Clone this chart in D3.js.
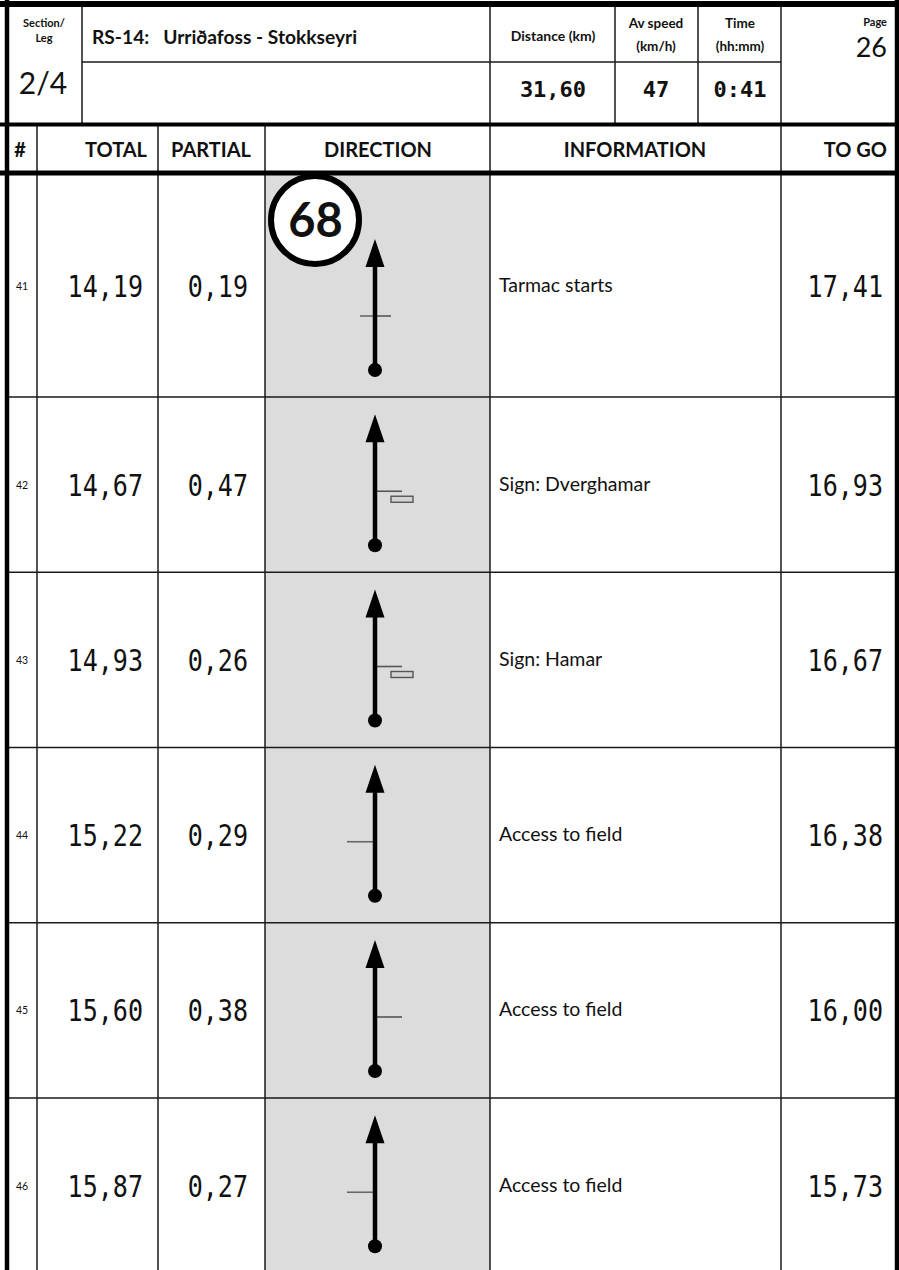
<!DOCTYPE html>
<html>
<head>
<meta charset="utf-8">
<script src="https://cdn.jsdelivr.net/npm/d3@7"></script>
<style>
  body { margin: 0; background: #fff; }
  svg { display: block; }
  .lbl { font-family: Lato, "Open Sans", sans-serif; fill: #111; }
  .mono { font-family: "DejaVu Sans Mono", monospace; fill: #111; }
</style>
</head>
<body>
<div id="page"></div>
<script>
// roadbook page data
var rowNums = [41, 42, 43, 44, 45, 46];
var totals = ["14,19", "14,67", "14,93", "15,22", "15,60", "15,87"];
var partials = ["0,19", "0,47", "0,26", "0,29", "0,38", "0,27"];
var infos = ["Tarmac starts", "Sign: Dverghamar", "Sign: Hamar", "Access to field", "Access to field", "Access to field"];
var toGo = ["17,41", "16,93", "16,67", "16,38", "16,00", "15,73"];
var sideRoads = ["cross", "right", "right", "left", "right", "left"];
var signBoxes = [false, true, true, false, false, false];
var waypoints = [68, null, null, null, null, null];

var sectionLeg = "2/4";
var title = "RS-14:   Urriðafoss - Stokkseyri";
var distance = "31,60", avSpeed = "47", timeHM = "0:41", pageNo = "26";
var colHeads = ["#", "TOTAL", "PARTIAL", "DIRECTION", "INFORMATION", "TO GO"];

var W = 899, H = 1270;
var cols = [9, 37, 158, 265, 490, 781, 895];   // column edges
var topCols = [82, 490, 615, 698, 781];        // header edges

var svg = d3.select('#page').append('svg')
  .attr('width', W).attr('height', H);

// row bounds: first row taller (waypoint), then equal rows
var rowScale = d3.scaleLinear().domain([1, 6]).range([397, 397 + 5 * 175.25]);
function rowTop(i) { return i == 0 ? 175 : rowScale(i); }
function rowBot(i) { return rowScale(i + 1); }

// grey direction column
svg.append('rect')
  .attr('x', cols[3]).attr('y', 175)
  .attr('width', cols[4] - cols[3]).attr('height', H - 175)
  .attr('fill', '#dcdcdc');

function line(x1, y1, x2, y2, w, c) {
  svg.append('line')
    .attr('x1', x1).attr('y1', y1).attr('x2', x2).attr('y2', y2)
    .attr('stroke', c || '#1a1a1a').attr('stroke-width', w || 1.5);
}

// header grid
topCols.forEach(function(x) { line(x, 7, x, 123); });
line(topCols[0], 62, topCols[4], 62);
cols.slice(1, 6).forEach(function(x) { line(x, 125, x, H); });
d3.range(1, 6).forEach(function(i) { line(cols[0], rowScale(i), cols[6], rowScale(i)); });

// thick frame
line(7, 0, 7, H, 4.5, '#000');
line(897, 0, 897, H, 4.5, '#000');
line(0, 4, W, 4, 6, '#000');
line(0, 124.5, W, 124.5, 4, '#000');
line(0, 173, W, 173, 5, '#000');

function txt(x, y, s, size, anchor, weight, cls) {
  return svg.append('text')
    .attr('class', cls || 'lbl')
    .attr('x', x).attr('y', y)
    .attr('font-size', size)
    .attr('text-anchor', anchor || 'start')
    .attr('font-weight', weight || 'normal')
    .style('white-space', 'pre')
    .text(s);
}

// top header
txt(44, 27, 'Section/', 11, 'middle', 'bold');
txt(44, 42, 'Leg', 11, 'middle', 'bold');
txt(43, 94, sectionLeg, 30, 'middle');
txt(92, 44, title, 19.2, 'start', 'bold');
txt(553, 41, 'Distance (km)', 14, 'middle', 'bold');
txt(656, 28, 'Av speed', 13.5, 'middle', 'bold');
txt(656, 51, '(km/h)', 13.5, 'middle', 'bold');
txt(740, 28, 'Time', 13.5, 'middle', 'bold');
txt(740, 51, '(hh:mm)', 13.5, 'middle', 'bold');
txt(887, 26, 'Page', 11, 'end', 'bold');
txt(887, 57, pageNo, 27, 'end');
txt(553, 97, distance, 22, 'middle', 'bold', 'mono');
txt(656, 97, avSpeed, 22, 'middle', 'bold', 'mono');
txt(740, 97, timeHM, 22, 'middle', 'bold', 'mono');

// column headings
var headX = [20, 147, 211, 378, 635, 887];
var headA = ['middle', 'end', 'middle', 'middle', 'middle', 'end'];
colHeads.forEach(function(h, i) { txt(headX[i], 157, h, 20, headA[i], 'bold'); });

// rows
function monoNum(xRight, y, s) {
  svg.append('text')
    .attr('class', 'mono')
    .attr('transform', 'translate(' + xRight + ',' + y + ') scale(0.85,1)')
    .attr('font-size', 29.5)
    .attr('text-anchor', 'end')
    .text(s);
}

rowNums.forEach(function(n, i) {
  var t = rowTop(i), b = rowBot(i), c = (t + b) / 2;
  txt(22, c + 4, n, 10.5, 'middle').attr('fill', '#444');
  monoNum(143, c + 11, totals[i]);
  monoNum(248, c + 11, partials[i]);
  monoNum(883, c + 11, toGo[i]);
  txt(499, c + 6, infos[i], 19.5);

  // tulip
  var g = svg.append('g');
  var cx = 375, sy = b - 81;
  if (sideRoads[i] == 'cross' || sideRoads[i] == 'left')
    g.append('line').attr('x1', sideRoads[i] == 'cross' ? 360 : 347).attr('x2', cx)
      .attr('y1', sy).attr('y2', sy).attr('stroke', '#666').attr('stroke-width', 1.6);
  if (sideRoads[i] == 'cross' || sideRoads[i] == 'right')
    g.append('line').attr('x1', cx).attr('x2', sideRoads[i] == 'cross' ? 391 : 402)
      .attr('y1', sy).attr('y2', sy).attr('stroke', '#555').attr('stroke-width', 1.6);
  if (signBoxes[i])
    g.append('rect').attr('x', 391).attr('y', sy + 5).attr('width', 22).attr('height', 6)
      .attr('fill', '#d4d4d4').attr('stroke', '#555').attr('stroke-width', 1.4);
  g.append('line').attr('x1', cx).attr('x2', cx).attr('y1', b - 132).attr('y2', b - 27)
    .attr('stroke', '#000').attr('stroke-width', 4.5);
  g.append('path')
    .attr('d', d3.line()([[cx, b - 158], [cx - 9.5, b - 130], [cx + 9.5, b - 130]]) + 'Z')
    .attr('fill', '#000');
  g.append('circle').attr('cx', cx).attr('cy', b - 27).attr('r', 7).attr('fill', '#000');

  if (waypoints[i] != null) {
    svg.append('circle').attr('cx', 315).attr('cy', t + 45).attr('r', 44)
      .attr('fill', '#fff').attr('stroke', '#000').attr('stroke-width', 6);
    txt(315.5, t + 62, waypoints[i], 47, 'middle', 'bold');
  }
});
</script>
</body>
</html>
